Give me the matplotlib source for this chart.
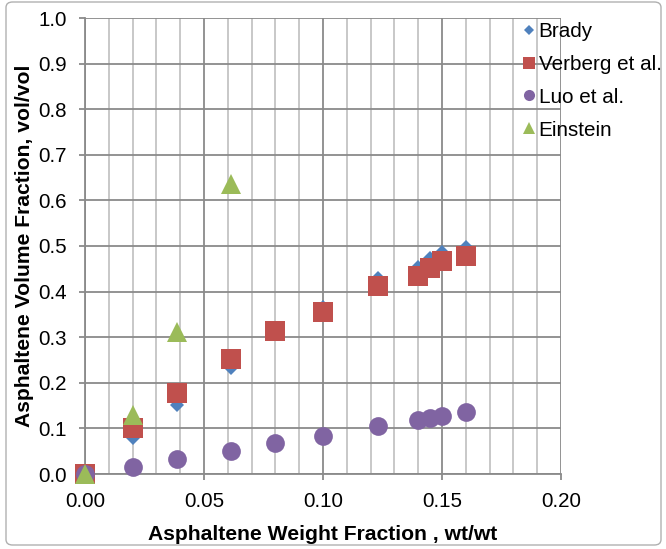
import numpy as np
import matplotlib
matplotlib.use("Agg")
import matplotlib.pyplot as plt
from matplotlib.lines import Line2D
from matplotlib.patches import FancyBboxPatch
from matplotlib.ticker import MultipleLocator, FormatStrFormatter

plt.rcParams['font.family'] = ['Liberation Sans', 'DejaVu Sans']

# weight fraction (wt/wt) for each model
wt = [0.0, 0.02, 0.0385, 0.0613, 0.08, 0.10, 0.123, 0.14, 0.145, 0.15, 0.16]
brady = [0.0, 0.079, 0.151, 0.232, 0.31, 0.366, 0.430, 0.455, 0.474, 0.487, 0.498]
verberg = [0.0, 0.10, 0.178, 0.252, 0.313, 0.355, 0.412, 0.435, 0.452, 0.467, 0.478]
luo = [0.0, 0.016, 0.032, 0.051, 0.068, 0.083, 0.105, 0.118, 0.123, 0.127, 0.135]
wt_einstein = [0.0, 0.02, 0.0385, 0.0613]
einstein = [0.0, 0.13, 0.311, 0.636]

labels = ["Brady", "Verberg et al.", "Luo et al.", "Einstein"]
colors = ["#4F81BD", "#C0504D", "#8064A2", "#9BBB59"]
markers = ["D", "s", "o", "^"]
sizes = [7.1, 14.4, 13.5, 14.0]
leg_sizes = [5.6, 9.0, 8.0, 8.5]

fig = plt.figure(figsize=(6.66, 5.49), dpi=100)
ax = fig.add_axes([85/666, 75/549, 476/666, 456/549])

series = [(wt, brady), (wt, verberg), (wt, luo), (wt_einstein, einstein)]
for (x, y), c, m, s in zip(series, colors, markers, sizes):
    ax.plot(x, y, linestyle='none', marker=m, markersize=s, color=c,
            markeredgewidth=0, zorder=3, clip_on=False)

ax.set_xlim(0, 0.20)
ax.set_ylim(0, 1.0)
ax.xaxis.set_major_locator(MultipleLocator(0.05))
ax.xaxis.set_minor_locator(MultipleLocator(0.01))
ax.yaxis.set_major_locator(MultipleLocator(0.1))
ax.xaxis.set_major_formatter(FormatStrFormatter('%.2f'))
ax.yaxis.set_major_formatter(FormatStrFormatter('%.1f'))

ax.grid(which='major', color='#8a8a8a', linewidth=1.3)
ax.grid(which='minor', axis='x', color='#c4c4c4', linewidth=1.3)
ax.set_axisbelow(True)
for side in ['top', 'right']:
    ax.spines[side].set_visible(False)
for side in ['left', 'bottom']:
    ax.spines[side].set_color('#8a8a8a')
    ax.spines[side].set_linewidth(1.3)

ax.tick_params(which='major', length=4, width=1.3, color='#8a8a8a',
               labelsize=14.8, pad=9)
ax.tick_params(which='minor', length=0)

ax.set_xlabel("Asphaltene Weight Fraction , wt/wt", fontsize=15.2, fontweight='bold', labelpad=10)
ax.set_ylabel("Asphaltene Volume Fraction, vol/vol", fontsize=15.2, fontweight='bold', labelpad=3)

handles = [Line2D([], [], linestyle='none', marker=m, markersize=s, color=c, markeredgewidth=0)
           for m, s, c in zip(markers, leg_sizes, colors)]
fig.legend(handles, labels, loc='upper left', bbox_to_anchor=(523/666, 1 - 22/549),
           frameon=False, fontsize=14.9, handlelength=0.6, handletextpad=0.15,
           labelspacing=0.67, borderpad=0, borderaxespad=0)

# rounded chart border
fig.patches.append(FancyBboxPatch((6/666, 4/549), 655/666, 543/549,
                                  boxstyle="round,pad=0,rounding_size=0.01",
                                  transform=fig.transFigure, fill=False,
                                  edgecolor='#b0b0b0', linewidth=1.0))

fig.savefig("out.png", dpi=100)
